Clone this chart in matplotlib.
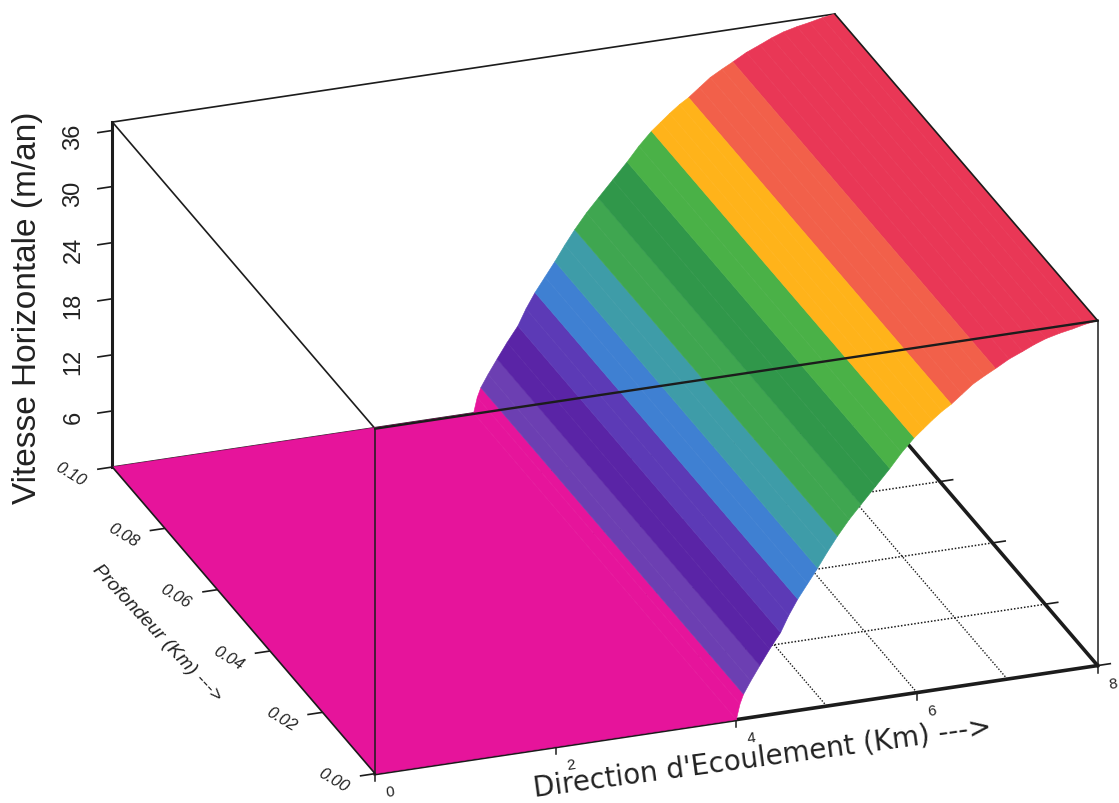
"""Surface of horizontal velocity over flow direction and depth."""

import matplotlib
matplotlib.use("Agg")
import matplotlib.pyplot as plt
import numpy as np
from mpl_toolkits.mplot3d import proj3d

# profile of the surface along the flow direction (same at every depth)
direction_km = [0, 4.0, 4.04, 4.08, 4.16, 4.26, 4.37, 4.49, 4.58, 4.68, 4.79, 4.90, 5.01, 5.12, 5.25,
                5.38, 5.54, 5.70, 5.83, 5.97, 6.07, 6.17, 6.28, 6.38, 6.50, 6.62, 6.75, 6.87,
                7.02, 7.17, 7.30, 7.43, 7.58, 7.72, 7.86, 8.0]
velocity = [0, 0, 1.6, 2.6, 3.9, 5.4, 7.0, 8.6, 10.3, 11.9, 13.4, 14.9, 16.5, 18.0, 19.6,
            21.0, 22.7, 24.4, 25.9, 27.3, 28.1, 28.9, 29.7, 30.3, 31.2, 32.1, 32.8, 33.4,
            34.2, 34.8, 35.35, 35.8, 36.15, 36.4, 36.7, 36.9]
depth_km = [0.0, 0.1]

# colour bands: upper velocity of each band, and its colour
band_tops = [2.6, 5.4, 8.6, 11.9, 14.9, 18.0, 21.0, 24.4, 27.3, 30.3, 33.4]
band_colors = ["#e6149b", "#6c3fb2", "#5a24a6", "#5c3ab6", "#3f80d2", "#3e9ca8",
               "#3fa650", "#30974a", "#4ab147", "#ffb31a", "#f2604a", "#e93756"]

direction_ticks = [0, 2, 4, 6, 8]
depth_ticks = [0.0, 0.02, 0.04, 0.06, 0.08, 0.10]
depth_tick_labels = ["0.00", "0.02", "0.04", "0.06", "0.08", "0.10"]
velocity_ticks = [6, 12, 18, 24, 30, 36]
grid_direction = [5, 6, 7]
grid_depth = [0.02, 0.04, 0.06, 0.08]
x_max, y_max, z_max = 8, 0.1, 36.9

LINE = "#1c1c1c"
TEXT = "#222222"
plt.rcParams["font.family"] = ["Liberation Sans", "DejaVu Sans"]

fig = plt.figure(figsize=(11.19, 8.04), dpi=100)
ax = fig.add_axes([27.8 / 1119, -168 / 804, 1124 / 1119, 1124 / 804], projection="3d",
                  proj_type="ortho")
ax.computed_zorder = False
ax.set_box_aspect((768, 780, 380))
ax.view_init(elev=24.7, azim=250.3)
ax.set_axis_off()
ax.set_xticks([])
ax.set_yticks([])
ax.set_zticks([])
ax.set_xlim(0, x_max)
ax.set_ylim(0, y_max)
ax.set_zlim(0, z_max)


def label_at(x, y, z, text, **kwargs):
    """Put a flat text at the screen position of a point of the box."""
    px, py, _ = proj3d.proj_transform(x, y, z, ax.get_proj())
    ax.text2D(px, py, text, transform=ax.transData, ha="center", va="center", color=TEXT, **kwargs)


# floor, below the surface
for d in grid_depth:
    ax.plot([0, x_max], [d, d], [0, 0], color=LINE, lw=1.1, ls=(0, (1, 1.2)), zorder=1)
for x in grid_direction:
    ax.plot([x, x], [0, y_max], [0, 0], color=LINE, lw=1.0, ls=(0, (1, 1.2)), zorder=1)
ax.plot([0, x_max], [0, 0], [0, 0], color=LINE, lw=2.6, zorder=2)
ax.plot([x_max, x_max], [0, y_max], [0, 0], color=LINE, lw=2.6, zorder=2)
ax.plot([0, x_max], [y_max, y_max], [0, 0], color=LINE, lw=1.2, zorder=2)
ax.plot([0, 0], [y_max, y_max], [0, z_max], color=LINE, lw=2.2, zorder=2)

# box edges behind the surface
ax.plot([0, x_max], [y_max, y_max], [z_max, z_max], color=LINE, lw=1.2, zorder=2)
ax.plot([0, 0], [0, y_max], [z_max, z_max], color=LINE, lw=1.2, zorder=2)

# ticks
for x in direction_ticks:
    ax.plot([x, x], [0, 0], [-0.8, 0], color=LINE, lw=1.1, zorder=2)
    label_at(x, -0.0058, 0, str(x), fontsize=11, rotation=8)
for d in depth_ticks:
    ax.plot([-0.16, 0], [d, d], [0, 0], color=LINE, lw=1.2, zorder=2)
    if d < 0.08:
        ax.plot([x_max, x_max + 0.14], [d, d], [0, 0], color=LINE, lw=1.2, zorder=2)
for d, lab in zip(depth_ticks, depth_tick_labels):
    label_at(-0.46, d, 0, lab, fontsize=12, style="italic", rotation=-31)
for z in velocity_ticks:
    ax.plot([-0.16, 0], [y_max, y_max], [z, z], color=LINE, lw=1.2, zorder=2)
    label_at(-0.43, y_max, z, str(z), fontsize=17, rotation=90)

# surface, one facet per profile step, coloured by its velocity band
X, Y = np.meshgrid(direction_km, depth_km)
Z = np.array([velocity, velocity])
mids = (np.array(velocity[:-1]) + np.array(velocity[1:])) / 2
bands = np.digitize(mids, band_tops)
colors = matplotlib.colors.to_rgba_array([band_colors[b] for b in bands])
ax.plot_surface(X, Y, Z, rstride=1, cstride=1, facecolors=colors[np.newaxis, :, :], shade=False,
                linewidth=0.4, antialiased=True, zorder=5)

# box edges in front of the surface
ax.plot([0, x_max], [0, 0], [z_max, z_max], color=LINE, lw=1.7, zorder=8)
ax.plot([0, 0], [0, 0], [0, z_max], color=LINE, lw=1.1, zorder=8)
ax.plot([x_max, x_max], [0, 0], [0, z_max], color=LINE, lw=1.1, zorder=8)
ax.plot([x_max, x_max], [0, y_max], [z_max, z_max], color=LINE, lw=1.2, zorder=8)
ax.plot([0, 0], [0, y_max], [0, 0], color=LINE, lw=1.2, zorder=8)

# axis titles
fig.text(28 / 1119, 1 - 308 / 804, "Vitesse Horizontale (m/an)", fontsize=24, rotation=90,
         ha="center", va="center", color=TEXT)
fig.text(157 / 1119, 1 - 633 / 804, "Profondeur (Km) --->", fontsize=14, style="italic",
         rotation=-47, ha="center", va="center", color=TEXT, rotation_mode="anchor")
fig.text(762 / 1119, 1 - 758 / 804, "Direction d'Ecoulement (Km) --->", fontsize=20,
         family="DejaVu Sans", rotation=7.7, ha="center", va="center", color=TEXT,
         rotation_mode="anchor")

fig.savefig("out.png", dpi=100)
